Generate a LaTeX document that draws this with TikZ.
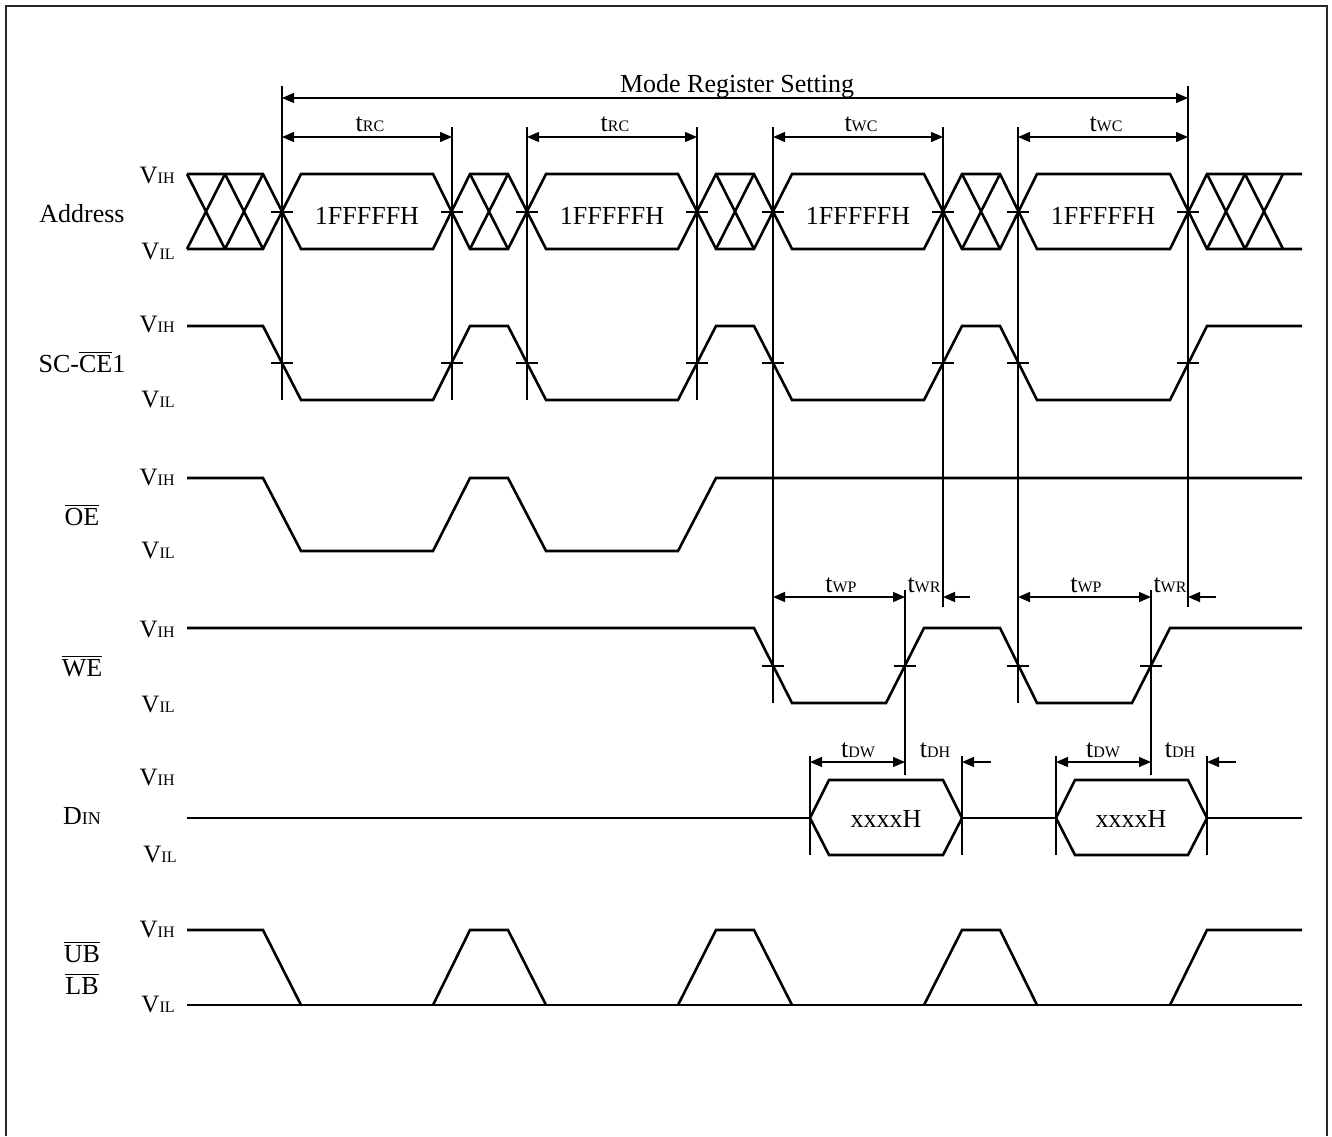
\documentclass[tikz,border=0pt]{standalone}
\usepackage{fontspec}
\setmainfont{Liberation Serif}
\usetikzlibrary{positioning,arrows.meta}

\newcommand{\sml}[1]{{\fontsize{8}{9}\selectfont #1}}
\newcommand{\VIH}{V\sml{IH}}
\newcommand{\VIL}{V\sml{IL}}
\newcommand{\tm}[1]{t\sml{#1}}
\newcommand{\ovl}[1]{$\overline{\mbox{#1}}$}

\tikzset{
  wave/.style={line width=1.3pt},
  guide/.style={line width=0.65pt},
  dimarrow/.style={guide, {Triangle[length=6pt,width=5pt]}-{Triangle[length=6pt,width=5pt]}},
  dimin/.style={guide, -{Triangle[length=6pt,width=5pt]}},
  signame/.style={font=\fontsize{13}{15}\selectfont, anchor=base},
  level/.style={font=\fontsize{12.5}{14}\selectfont, anchor=base east, inner sep=0pt},
  tlabel/.style={font=\fontsize{13}{15}\selectfont, anchor=base},
}

\begin{document}
\begin{tikzpicture}[x=0.5pt, y=-0.5pt]
\useasboundingbox (0,0) rectangle (1332,1136);
\draw[line width=1pt, black!85] (6,1136) -- (6,6) -- (1327,6) -- (1327,1136);

% signal names
\node[signame] (addr) at (82,222) {Address};
\node[signame] (ce) at (82,372) {SC-\ovl{CE}1};
\node[signame] (oe) at (82,525) {\ovl{OE}};
\node[signame] (we) at (82,676) {\ovl{WE}};
\node[signame] (din) at (82,824) {D\sml{\fontsize{9}{10}\selectfont IN}};
\node[signame] (ub) at (82,962) {\ovl{UB}};
\node[signame] (lb) at (82,994) {\ovl{LB}};

% levels
\node[level] (addrH) at (175,183) {\VIH};
\node[level] (addrL) at (175,259) {\VIL};
\node[level] (ceH) at (175,332) {\VIH};
\node[level] (ceL) at (175,407) {\VIL};
\node[level] (oeH) at (175,485) {\VIH};
\node[level] (oeL) at (175,558) {\VIL};
\node[level] (weH) at (175,637) {\VIH};
\node[level] (weL) at (175,712) {\VIL};
\node[level] (dinH) at (175,785) {\VIH};
\node[level] (dinL) at (177,862) {\VIL};
\node[level] (ubH) at (175,937) {\VIH};
\node[level] (ubL) at (175,1012) {\VIL};

% Address bus
\draw[wave] (187,174) -- (263,174) -- (301,249) -- (433,249) -- (470,174) -- (508,174) -- (546,249) -- (678,249) -- (716,174) -- (754,174) -- (792,249) -- (924,249) -- (962,174) -- (1000,174) -- (1037,249) -- (1170,249) -- (1207,174) -- (1302,174);
\draw[wave] (187,249) -- (263,249) -- (301,174) -- (433,174) -- (470,249) -- (508,249) -- (546,174) -- (678,174) -- (716,249) -- (754,249) -- (792,174) -- (924,174) -- (962,249) -- (1000,249) -- (1037,174) -- (1170,174) -- (1207,249) -- (1302,249);
\foreach \c in {206,244,489,735,981,1226,1264}
  \draw[wave] (\c-19,174) -- (\c+19,249) (\c-19,249) -- (\c+19,174);
\node[tlabel] (a1) at (367,224) {1FFFFFH};
\node[tlabel] (a2) at (612,224) {1FFFFFH};
\node[tlabel] (a3) at (858,224) {1FFFFFH};
\node[tlabel] (a4) at (1103,224) {1FFFFFH};

% SC-CE1, OE, WE
\draw[wave] (187,326) -- (263,326) -- (301,400) -- (433,400) -- (470,326) -- (508,326) -- (546,400) -- (678,400) -- (716,326) -- (754,326) -- (792,400) -- (924,400) -- (962,326) -- (1000,326) -- (1037,400) -- (1170,400) -- (1207,326) -- (1302,326);
\draw[wave] (187,478) -- (263,478) -- (301,551) -- (433,551) -- (470,478) -- (508,478) -- (546,551) -- (678,551) -- (716,478) -- (1302,478);
\draw[wave] (187,628) -- (754,628) -- (792,703) -- (886,703) -- (924,628) -- (1000,628) -- (1037,703) -- (1132,703) -- (1170,628) -- (1302,628);

% DIN
\draw[wave] (187,818) -- (810,818) (962,818) -- (1056,818) (1207,818) -- (1302,818);
\draw[wave] (810,818) -- (829,780) -- (943,780) -- (962,818) -- (943,855) -- (829,855) -- cycle;
\draw[wave] (1056,818) -- (1075,780) -- (1188,780) -- (1207,818) -- (1188,855) -- (1075,855) -- cycle;
\node[tlabel] (d1) at (886,827) {xxxxH};
\node[tlabel] (d2) at (1131,827) {xxxxH};

% UB, LB
\draw[wave] (187,1005) -- (1302,1005);
\draw[wave] (187,930) -- (263,930) -- (301,1005);
\draw[wave] (433,1005) -- (470,930) -- (508,930) -- (546,1005);
\draw[wave] (678,1005) -- (716,930) -- (754,930) -- (792,1005);
\draw[wave] (924,1005) -- (962,930) -- (1000,930) -- (1037,1005);
\draw[wave] (1170,1005) -- (1207,930) -- (1302,930);

% crossing ticks
\foreach \c in {282,452,527,697,773,943,1018,1188}
  \draw[guide] (\c-11,212) -- (\c+11,212) (\c-11,363) -- (\c+11,363);
\foreach \c in {773,905,1018,1151}
  \draw[guide] (\c-11,666) -- (\c+11,666);

% guide lines
\draw[guide] (282,86) -- (282,400);
\foreach \x in {452,527,697}
  \draw[guide] (\x,127) -- (\x,400);
\draw[guide] (773,127) -- (773,703);
\draw[guide] (943,127) -- (943,607);
\draw[guide] (1018,127) -- (1018,703);
\draw[guide] (1188,86) -- (1188,607);
\draw[guide] (905,590) -- (905,775);
\draw[guide] (1151,590) -- (1151,775);
\foreach \x in {810,962,1056,1207}
  \draw[guide] (\x,756) -- (\x,855);

% timing arrows
\coordinate (mrsL) at (282,98);  \coordinate (mrsR) at (1188,98);
\coordinate (rc1L) at (282,137); \coordinate (rc1R) at (452,137);
\coordinate (rc2L) at (527,137); \coordinate (rc2R) at (697,137);
\coordinate (wc1L) at (773,137); \coordinate (wc1R) at (943,137);
\coordinate (wc2L) at (1018,137); \coordinate (wc2R) at (1188,137);
\coordinate (wp1L) at (773,597); \coordinate (wp1R) at (905,597);
\coordinate (wp2L) at (1018,597); \coordinate (wp2R) at (1151,597);
\coordinate (wr1S) at (970,597); \coordinate (wr1E) at (943,597);
\coordinate (wr2S) at (1216,597); \coordinate (wr2E) at (1188,597);
\coordinate (dw1L) at (810,762); \coordinate (dw1R) at (905,762);
\coordinate (dw2L) at (1056,762); \coordinate (dw2R) at (1151,762);
\coordinate (dh1S) at (991,762); \coordinate (dh1E) at (962,762);
\coordinate (dh2S) at (1236,762); \coordinate (dh2E) at (1207,762);
\draw[dimarrow] (mrsL) -- (mrsR);
\draw[dimarrow] (rc1L) -- (rc1R);
\draw[dimarrow] (rc2L) -- (rc2R);
\draw[dimarrow] (wc1L) -- (wc1R);
\draw[dimarrow] (wc2L) -- (wc2R);
\draw[dimarrow] (wp1L) -- (wp1R);
\draw[dimarrow] (wp2L) -- (wp2R);
\draw[dimarrow] (dw1L) -- (dw1R);
\draw[dimarrow] (dw2L) -- (dw2R);
\draw[dimin] (wr1S) -- (wr1E);
\draw[dimin] (wr2S) -- (wr2E);
\draw[dimin] (dh1S) -- (dh1E);
\draw[dimin] (dh2S) -- (dh2E);

\node[tlabel] (mrs) at (737,92) {Mode Register Setting};
\node[tlabel] (trc1) at (370,131) {\tm{RC}};
\node[tlabel] (trc2) at (615,131) {\tm{RC}};
\node[tlabel] (twc1) at (861,131) {\tm{WC}};
\node[tlabel] (twc2) at (1106,131) {\tm{WC}};
\node[tlabel] (twp1) at (841,592) {\tm{WP}};
\node[tlabel] (twr1) at (924,592) {\tm{WR}};
\node[tlabel] (twp2) at (1086,592) {\tm{WP}};
\node[tlabel] (twr2) at (1170,592) {\tm{WR}};
\node[tlabel] (tdw1) at (858,757) {\tm{DW}};
\node[tlabel] (tdh1) at (935,757) {\tm{DH}};
\node[tlabel] (tdw2) at (1103,757) {\tm{DW}};
\node[tlabel] (tdh2) at (1180,757) {\tm{DH}};
\end{tikzpicture}
\end{document}
